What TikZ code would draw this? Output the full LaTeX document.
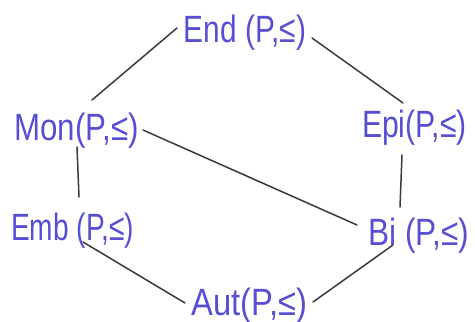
\documentclass[tikz,border=0pt]{standalone}
\usepackage{fontspec}
\setmainfont[FakeStretch=0.77]{Liberation Sans}
\definecolor{ink}{RGB}{88,78,212}
\definecolor{pen}{RGB}{58,58,58}
\tikzset{
  lbl/.style={text=ink, inner sep=0pt, anchor=base, font=\fontsize{38}{40}\selectfont},
  edge/.style={draw=pen, line width=1.5pt, line cap=round}
}
\begin{document}
\begin{tikzpicture}[x=1pt,y=-1pt]
\useasboundingbox (0,0) rectangle (475,322);
\node[lbl] (End) at (245,42) {\scalebox{1.02}[1]{End (P,≤)}};
\node[lbl] (Mon) at (76.5,140) {\scalebox{1.07}[1]{Mon(P,≤)}};
\node[lbl] (Epi) at (414.5,137) {\scalebox{1.03}[1]{Epi(P,≤)}};
\node[lbl] (Emb) at (72.5,240) {\scalebox{0.96}[1]{Emb (P,≤)}};
\node[lbl] (Bi) at (419,245) {\scalebox{1.08}[1]{Bi\hspace{8pt}(P,≤)}};
\node[lbl] (Aut) at (249.5,315) {\scalebox{1.12}[1]{Aut(P,≤)}};
\draw[edge] ([shift={(-68,-14)}]End.base) -- ([shift={(15.5,-40)}]Mon.base);
\draw[edge] ([shift={(67,-4)}]End.base) -- ([shift={(-11.5,-34)}]Epi.base);
\draw[edge] ([shift={(0.5,7)}]Mon.base) -- ([shift={(6.5,-43)}]Emb.base);
\draw[edge] ([shift={(-12.5,18)}]Epi.base) -- ([shift={(-19,-38)}]Bi.base);
\draw[edge] ([shift={(66.5,-10)}]Mon.base) -- ([shift={(-62,-20)}]Bi.base);
\draw[edge] ([shift={(10.5,2)}]Emb.base) -- ([shift={(-64.5,-12)}]Aut.base);
\draw[edge] ([shift={(-26,0)}]Bi.base) -- ([shift={(63.5,-13)}]Aut.base);
\end{tikzpicture}
\end{document}
